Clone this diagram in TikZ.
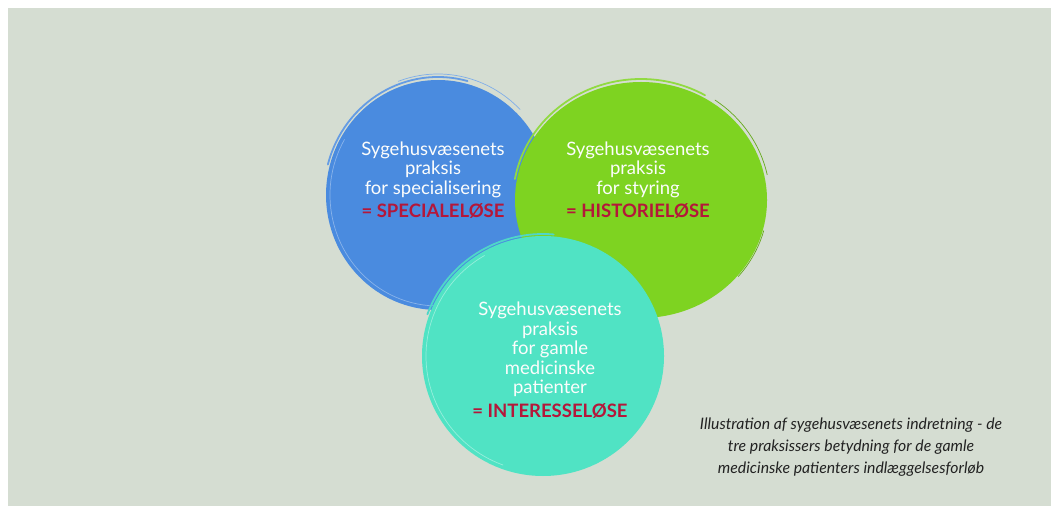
\documentclass[tikz,border=0pt]{standalone}
\usepackage{fontspec}
\setmainfont{Lato}
\definecolor{paper}{HTML}{D5DDD2}
\definecolor{specblue}{HTML}{4A8BDF}
\definecolor{styrgreen}{HTML}{7ED321}
\definecolor{patteal}{HTML}{50E3C4}
\definecolor{loesered}{HTML}{B4173A}
\definecolor{captiongray}{HTML}{222222}

\tikzset{
  praksis/.style={align=center, text=white!94!paper,
    font=\fontsize{18.5}{19.5}\selectfont},
  rim/.style={line width=1.8pt, line cap=round},
  thinrim/.style={line width=0.7pt, line cap=round},
}
\newcommand{\loese}[1]{\\[4pt]{\bfseries\color{loesered}= #1}}

\begin{document}
\begin{tikzpicture}[x=1pt, y=1pt]
  \useasboundingbox (0,0) rectangle (1051,506);
  \fill[white] (0,0) rectangle (1051,506);
  \fill[paper] (8,0) rectangle (1051,498);

  \coordinate (specC) at (438,311);
  \coordinate (styrC) at (641,306);
  \coordinate (patC) at (543,150);

  % blue circle with brush edge
  \fill[specblue] (specC) ellipse[x radius=112, y radius=115];
  \draw[rim, specblue!85!white] (specC) ++(75:114 and 118) arc[start angle=75, end angle=165, x radius=114, y radius=118];
  \draw[thinrim, specblue!70!white] (specC) ++(45:116 and 121) arc[start angle=45, end angle=110, x radius=116, y radius=121];
  \draw[thinrim, white, opacity=0.35] (specC) ++(150:108 and 111) arc[start angle=150, end angle=290, x radius=108, y radius=111];

  % green circle
  \fill[styrgreen] (styrC) ellipse[x radius=126, y radius=118];
  \draw[rim, styrgreen!85!white] (styrC) ++(60:128 and 121) arc[start angle=60, end angle=170, x radius=128, y radius=121];
  \draw[thinrim, styrgreen!80!black] (styrC) ++(12:129 and 122) arc[start angle=12, end angle=55, x radius=129, y radius=122];
  \draw[thinrim, styrgreen!80!black] (styrC) ++(-40:127 and 119) arc[start angle=-40, end angle=-15, x radius=127, y radius=119];

  % teal circle on top
  \fill[patteal] (patC) ellipse[x radius=121, y radius=120];
  \draw[rim, patteal!85!specblue] (patC) ++(85:123 and 122) arc[start angle=85, end angle=160, x radius=123, y radius=122];
  \draw[thinrim, white, opacity=0.4] (patC) ++(120:117 and 116) arc[start angle=120, end angle=250, x radius=117, y radius=116];

  \node[praksis] (spec) at (433,326) {Sygehusvæsenets\\praksis\\for specialisering\loese{SPECIALELØSE}};
  \node[praksis] (styr) at (638,326) {Sygehusvæsenets\\praksis\\for styring\loese{HISTORIELØSE}};
  \node[praksis] (pat) at (550,146) {Sygehusvæsenets\\praksis\\for gamle\\medicinske\\patienter\loese{INTERESSELØSE}};

  \node[align=center, text=captiongray, font=\itshape\fontsize{15.8}{22}\selectfont] (caption) at (851,59)
    {Illustration af sygehusvæsenets indretning - de\\tre praksissers betydning for de gamle\\medicinske patienters indlæggelsesforløb};
\end{tikzpicture}
\end{document}
